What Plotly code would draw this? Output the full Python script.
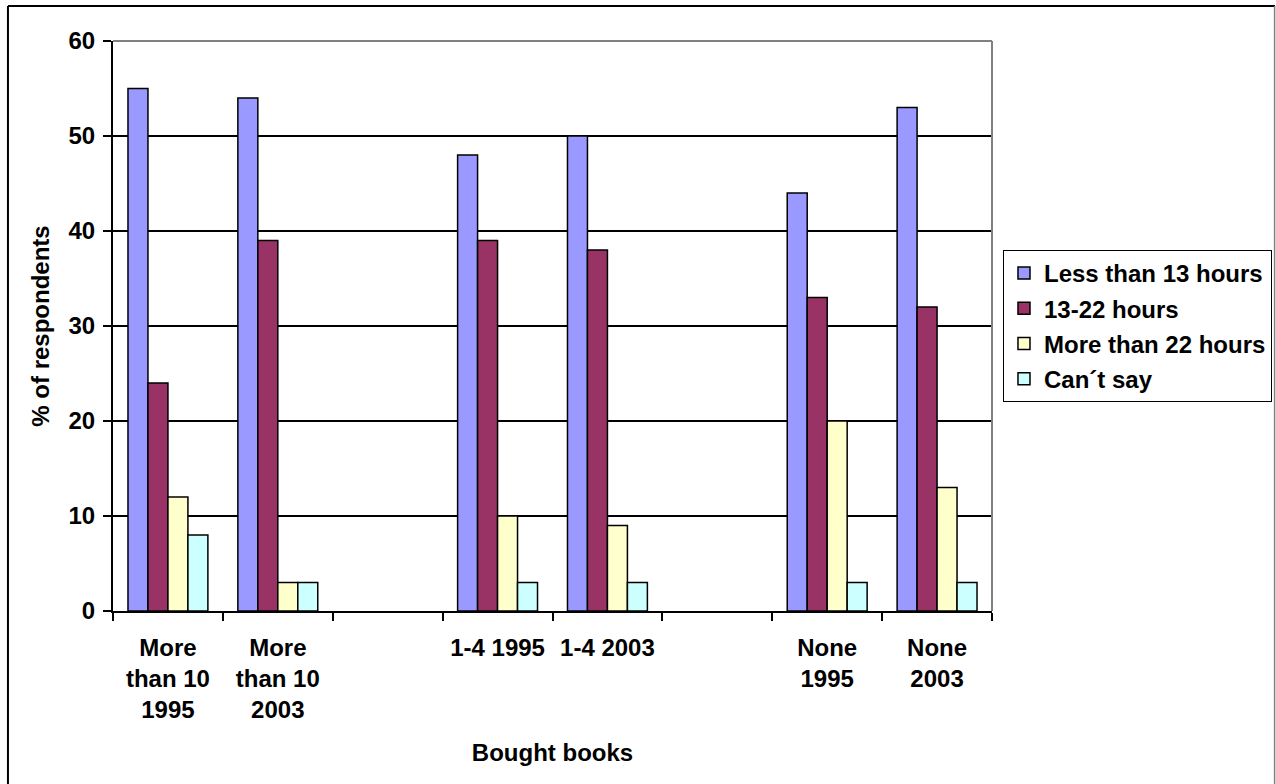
import plotly.graph_objects as go

# Book-buying groups by survey year; blank slots separate the three groups
categories = [
    "More<br>than 10<br>1995",
    "More<br>than 10<br>2003",
    " ",
    "1-4 1995",
    "1-4 2003",
    "  ",
    "None<br>1995",
    "None<br>2003",
]

series_names = ["Less than 13 hours", "13-22 hours", "More than 22 hours", "Can\u00b4t say"]

less_than_13 = [55, 54, None, 48, 50, None, 44, 53]
hours_13_22 = [24, 39, None, 39, 38, None, 33, 32]
more_than_22 = [12, 3, None, 10, 9, None, 20, 13]
cant_say = [8, 3, None, 3, 3, None, 3, 3]

series_values = [less_than_13, hours_13_22, more_than_22, cant_say]
series_colors = ["#9999FF", "#993366", "#FFFFCC", "#CCFFFF"]

y_ticks = [0, 10, 20, 30, 40, 50, 60]

FONT = "Liberation Sans, Arial, sans-serif"
FS = 24
bold = dict(family=FONT, size=FS, color="black", weight="bold")

fig = go.Figure()
for i, (name, vals, color) in enumerate(zip(series_names, series_values, series_colors)):
    fig.add_trace(go.Bar(
        x=categories,
        y=vals,
        name=name,
        legendgroup=f"g{i}",
        marker=dict(color=color, line=dict(color="black", width=1.5)),
    ))

fig.update_layout(
    width=1276,
    height=784,
    margin=dict(l=113, r=284, t=41, b=173, autoexpand=False),
    paper_bgcolor="white",
    plot_bgcolor="white",
    barmode="group",
    bargap=0.2727,
    bargroupgap=0,
    font=bold,
    showlegend=True,
    legend=dict(
        x=1.0125, xanchor="left",
        y=0.5, yanchor="middle",
        bordercolor="black", borderwidth=1,
        bgcolor="white",
        font=bold,
        tracegroupgap=1,
        itemwidth=30,
    ),
    xaxis=dict(
        type="category",
        categoryorder="array",
        categoryarray=categories,
        showline=True, linecolor="black", linewidth=2,
        ticks="outside", tickson="boundaries", ticklen=8, tickcolor="black", tickwidth=2,
        showgrid=False,
        tickangle=0,
        ticklabelstandoff=14,
        tickfont=bold,
        title=dict(text="Bought books", standoff=22, font=bold),
    ),
    yaxis=dict(
        range=[0, 60],
        tickvals=y_ticks,
        showline=True, linecolor="black", linewidth=2,
        ticks="outside", ticklen=8, tickcolor="black", tickwidth=2,
        showgrid=True, gridcolor="black", gridwidth=1.5,
        zeroline=False,
        ticklabelstandoff=3,
        tickfont=bold,
        title=dict(text="% of respondents", standoff=12, font=bold),
    ),
    shapes=[
        # grey plot-area frame on the top and right
        dict(type="line", xref="paper", yref="paper", x0=0, x1=1, y0=1, y1=1,
             line=dict(color="#808080", width=2), layer="above"),
        dict(type="line", xref="paper", yref="paper", x0=1, x1=1, y0=0, y1=1,
             line=dict(color="#808080", width=2), layer="above"),
        # chart border
        dict(type="line", xref="paper", yref="paper", x0=-0.1195, x1=-0.1195, y0=-0.33, y1=1.0614,
             line=dict(color="black", width=2)),
        dict(type="line", xref="paper", yref="paper", x0=-0.1195, x1=1.322, y0=1.0614, y1=1.0614,
             line=dict(color="black", width=2)),
        dict(type="line", xref="paper", yref="paper", x0=1.3215, x1=1.3215, y0=-0.33, y1=1.0614,
             line=dict(color="#808080", width=1.5)),
    ],
)

fig.write_html("out.html")
